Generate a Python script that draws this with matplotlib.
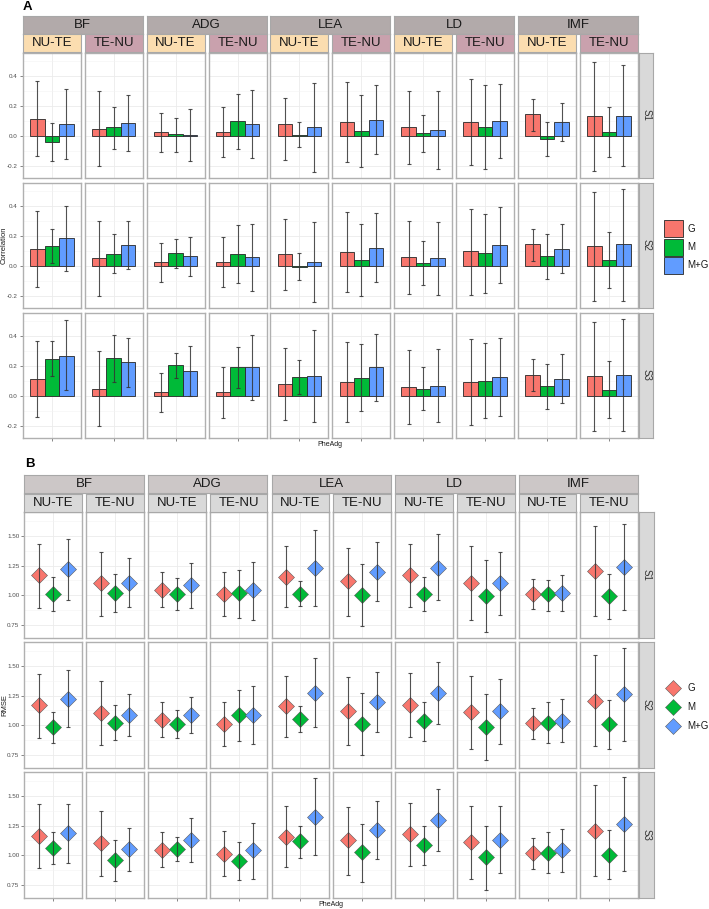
import numpy as np
import matplotlib.pyplot as plt
from matplotlib.patches import Rectangle

plt.rcParams['font.family'] = ['Liberation Sans', 'DejaVu Sans']

traits = ["BF", "ADG", "LEA", "LD", "IMF"]
directions = ["NU-TE", "TE-NU"]
scenarios = ["S1", "S2", "S3"]
methods = ["G", "M", "M+G"]
colors = ["#F8766D", "#00BA38", "#619CFF"]

# panels in order BF NU-TE, BF TE-NU, ADG NU-TE, ..., IMF TE-NU ; columns G, M, M+G
cor_s1 = [[0.113, -0.042, 0.079], [0.046, 0.057, 0.084], [0.022, 0.009, 0.004], [0.024, 0.095, 0.077],
          [0.077, 0.004, 0.055], [0.093, 0.033, 0.106], [0.055, 0.018, 0.038], [0.093, 0.057, 0.097],
          [0.141, -0.022, 0.090], [0.128, 0.024, 0.128]]
cor_s1_lo = [[-0.137, -0.166, -0.155], [-0.203, -0.086, -0.099], [-0.108, -0.106, -0.170], [-0.143, -0.088, -0.150],
             [-0.161, -0.077, -0.245], [-0.174, -0.207, -0.124], [-0.190, -0.106, -0.219], [-0.194, -0.220, -0.148],
             [0.033, -0.137, -0.038], [-0.232, -0.139, -0.205]]
cor_s1_hi = [[0.366, 0.084, 0.313], [0.300, 0.194, 0.269], [0.150, 0.121, 0.177], [0.194, 0.276, 0.305],
             [0.254, 0.090, 0.353], [0.358, 0.269, 0.340], [0.300, 0.139, 0.296], [0.380, 0.338, 0.344],
             [0.247, 0.088, 0.216], [0.492, 0.194, 0.470]]

cor_s2 = [[0.113, 0.130, 0.181], [0.049, 0.077, 0.137], [0.022, 0.082, 0.062], [0.026, 0.077, 0.057],
          [0.077, -0.009, 0.024], [0.093, 0.038, 0.121], [0.055, 0.015, 0.049], [0.095, 0.084, 0.139],
          [0.141, 0.064, 0.113], [0.130, 0.040, 0.141]]
cor_s2_lo = [[-0.139, 0.015, -0.035], [-0.203, -0.051, -0.024], [-0.106, -0.018, -0.068], [-0.143, -0.117, -0.168],
             [-0.159, -0.097, -0.245], [-0.174, -0.205, -0.110], [-0.190, -0.128, -0.196], [-0.194, -0.183, -0.113],
             [0.033, -0.090, -0.051], [-0.234, -0.150, -0.234]]
cor_s2_hi = [[0.367, 0.241, 0.397], [0.300, 0.208, 0.300], [0.150, 0.179, 0.194], [0.194, 0.274, 0.278],
             [0.314, 0.082, 0.294], [0.360, 0.276, 0.353], [0.300, 0.161, 0.294], [0.380, 0.347, 0.390],
             [0.247, 0.214, 0.276], [0.490, 0.227, 0.513]]

cor_s3 = [[0.113, 0.247, 0.265], [0.046, 0.252, 0.221], [0.022, 0.203, 0.166], [0.026, 0.190, 0.190],
          [0.077, 0.126, 0.132], [0.093, 0.119, 0.188], [0.055, 0.046, 0.066], [0.091, 0.099, 0.126],
          [0.139, 0.062, 0.113], [0.130, 0.040, 0.139]]
cor_s3_lo = [[-0.141, 0.132, 0.038], [-0.205, 0.093, 0.057], [-0.108, 0.121, 0.000], [-0.146, 0.051, -0.029],
             [-0.161, 0.011, -0.172], [-0.174, -0.104, -0.035], [-0.190, -0.093, -0.177], [-0.196, -0.150, -0.135],
             [0.029, -0.090, -0.051], [-0.234, -0.150, -0.234]]
cor_s3_hi = [[0.362, 0.362, 0.503], [0.298, 0.404, 0.382], [0.150, 0.283, 0.331], [0.192, 0.327, 0.406],
             [0.316, 0.238, 0.439], [0.360, 0.344, 0.411], [0.302, 0.192, 0.309], [0.380, 0.351, 0.384],
             [0.247, 0.214, 0.276], [0.492, 0.230, 0.512]]

rmse_s1 = [[1.167, 1.014, 1.219], [1.100, 1.017, 1.108], [1.044, 1.011, 1.083], [1.011, 1.017, 1.042],
           [1.158, 1.014, 1.233], [1.122, 1.000, 1.200], [1.169, 1.014, 1.231], [1.103, 0.997, 1.103],
           [1.011, 1.011, 1.017], [1.206, 0.992, 1.236]]
rmse_s1_lo = [[0.892, 0.867, 0.958], [0.830, 0.858, 0.906], [0.900, 0.878, 0.892], [0.825, 0.814, 0.794],
              [0.900, 0.911, 0.911], [0.830, 0.747, 0.950], [0.903, 0.872, 0.958], [0.797, 0.694, 0.836],
              [0.886, 0.867, 0.872], [0.825, 0.803, 0.881]]
rmse_s1_hi = [[1.430, 1.150, 1.469], [1.367, 1.178, 1.311], [1.192, 1.142, 1.272], [1.197, 1.214, 1.281],
              [1.411, 1.117, 1.547], [1.400, 1.261, 1.447], [1.433, 1.153, 1.511], [1.412, 1.295, 1.367],
              [1.139, 1.133, 1.167], [1.583, 1.178, 1.595]]

rmse_s2 = [[1.167, 0.983, 1.222], [1.103, 1.019, 1.089], [1.047, 1.014, 1.089], [1.014, 1.089, 1.089],
           [1.161, 1.056, 1.275], [1.119, 1.014, 1.194], [1.175, 1.033, 1.275], [1.111, 0.983, 1.122],
           [1.017, 1.022, 1.036], [1.206, 1.008, 1.261]]
rmse_s2_lo = [[0.894, 0.853, 0.986], [0.833, 0.875, 0.908], [0.903, 0.897, 0.936], [0.828, 0.867, 0.847],
              [0.906, 0.944, 0.986], [0.833, 0.753, 0.942], [0.906, 0.869, 1.011], [0.803, 0.714, 0.847],
              [0.889, 0.853, 0.858], [0.831, 0.803, 0.869]]
rmse_s2_hi = [[1.433, 1.114, 1.461], [1.369, 1.169, 1.267], [1.194, 1.131, 1.239], [1.200, 1.300, 1.331],
              [1.417, 1.161, 1.564], [1.403, 1.272, 1.444], [1.436, 1.194, 1.533], [1.414, 1.261, 1.389],
              [1.142, 1.192, 1.219], [1.586, 1.214, 1.650]]

rmse_s3 = [[1.164, 1.061, 1.186], [1.103, 0.961, 1.053], [1.047, 1.056, 1.133], [1.014, 0.950, 1.042],
           [1.158, 1.117, 1.325], [1.125, 1.025, 1.214], [1.178, 1.083, 1.297], [1.111, 0.983, 1.131],
           [1.017, 1.022, 1.042], [1.208, 1.006, 1.261]]
rmse_s3_lo = [[0.894, 0.925, 0.936], [0.831, 0.789, 0.872], [0.903, 0.953, 0.947], [0.825, 0.794, 0.806],
              [0.903, 0.981, 1.003], [0.836, 0.778, 0.969], [0.911, 0.919, 1.036], [0.806, 0.714, 0.853],
              [0.889, 0.850, 0.858], [0.831, 0.806, 0.872]]
rmse_s3_hi = [[1.433, 1.200, 1.431], [1.369, 1.133, 1.231], [1.194, 1.158, 1.317], [1.203, 1.111, 1.275],
              [1.414, 1.244, 1.647], [1.408, 1.267, 1.453], [1.436, 1.242, 1.558], [1.417, 1.250, 1.411],
              [1.142, 1.192, 1.225], [1.592, 1.214, 1.653]]

cor_all = [(cor_s1, cor_s1_lo, cor_s1_hi), (cor_s2, cor_s2_lo, cor_s2_hi), (cor_s3, cor_s3_lo, cor_s3_hi)]
rmse_all = [(rmse_s1, rmse_s1_lo, rmse_s1_hi), (rmse_s2, rmse_s2_lo, rmse_s2_hi), (rmse_s3, rmse_s3_lo, rmse_s3_hi)]

W, H = 709, 909
fig = plt.figure(figsize=(W / 100, H / 100), dpi=100)
fig.patch.set_facecolor("white")

xs = [0.7, 1.0, 1.3]


def px_axes(l, t, w, h):
    return fig.add_axes([l / W, 1 - (t + h) / H, w / W, h / H])


def strip(l, t, w, h, text, fc, size, rot=0, ec="#A8A8A8", tc="#1A1A1A"):
    ax = px_axes(l, t, w, h)
    ax.set_facecolor(fc)
    ax.set_xticks([])
    ax.set_yticks([])
    for s in ax.spines.values():
        s.set_color(ec)
        s.set_linewidth(0.8)
    ax.text(0.5, 0.5, text, ha="center", va="center", fontsize=size, rotation=rot,
            color=tc, transform=ax.transAxes)
    return ax


def panel(l, t, w, h, ylim, yt, ymt, ylabels, left, bottom):
    ax = px_axes(l, t, w, h)
    ax.set_xlim(0.4, 1.6)
    ax.set_ylim(*ylim)
    ax.set_xticks([1])
    ax.set_yticks(yt)
    ax.set_yticks(ymt, minor=True)
    ax.grid(True, which="major", color="#EBEBEB", lw=0.6)
    ax.grid(True, which="minor", axis="y", color="#F3F3F3", lw=0.4)
    ax.set_axisbelow(True)
    for s in ax.spines.values():
        s.set_color("#B0B0B0")
        s.set_linewidth(1.0)
    ax.tick_params(which="minor", length=0)
    ax.tick_params(axis="x", length=0, labelbottom=False)
    ax.tick_params(axis="y", length=0, labelleft=False)
    if left:
        ax.set_yticklabels(ylabels)
        ax.tick_params(axis="y", length=2, width=0.5, color="#555555", labelleft=True,
                       labelsize=4.5, labelcolor="#4D4D4D", pad=1.5)
    if bottom:
        ax.tick_params(axis="x", length=2, width=0.5, color="#555555")
    return ax


def draw_block(top, left0, step, pw, data, ylim, yt, ymt, ylabels, kind,
               trait_fc, dir_fcs, ylab, ylab_y):
    row_h = 125.6
    for r in range(3):
        mean, lo, hi = data[r]
        t = top + 130 * r
        for c in range(10):
            l = left0 + step * c
            ax = panel(l, t, pw, row_h, ylim, yt, ymt, ylabels, c == 0, r == 2)
            m = np.array(mean[c])
            err = [m - np.array(lo[c]), np.array(hi[c]) - m]
            if kind == "bar":
                ax.bar(xs, m, 0.3, color=colors, edgecolor="#262626", lw=0.6, zorder=2)
                ax.errorbar(xs, m, yerr=err, fmt="none", ecolor="#333333", elinewidth=0.8,
                            capsize=1.3, capthick=0.8, alpha=0.85, zorder=3)
            else:
                for i in range(3):
                    ax.plot(xs[i], m[i], marker="D", markersize=8, color=colors[i],
                            markeredgecolor="#5A5A5A", markeredgewidth=0.4, zorder=2)
                ax.errorbar(xs, m, yerr=err, fmt="none", ecolor="#333333", elinewidth=0.8,
                            capsize=1.3, capthick=0.8, alpha=0.85, zorder=3)
        strip(left0 + step * 10 - (step - pw) + 1.0, t, 14.5, row_h, scenarios[r], "#D9D9D9", 7,
              rot=270, tc="#333333")
    # facet strips
    for k, tr in enumerate(traits):
        l = left0 + step * 2 * k
        strip(l, top - 36.5, step + pw, 18, tr, trait_fc, 9.5)
        for d in range(2):
            strip(l + step * d, top - 18.3, pw, 18, directions[d], dir_fcs[d], 9.5)
    fig.text(4.5 / W, 1 - ylab_y / H, ylab, rotation=90, ha="center", va="center",
             fontsize=5.5, color="#1A1A1A")
    fig.text((left0 + (step * 9 + pw) / 2) / W, 1 - (top + 392) / H, "PheAdg",
             ha="center", va="center", fontsize=5, color="#1A1A1A")


# Panel A: correlation
draw_block(52.6, 22.8, 61.9, 58.0, cor_all, (-0.283, 0.553), [-0.2, 0.0, 0.2, 0.4],
           [-0.1, 0.1, 0.3, 0.5], ["-0.2", "0.0", "0.2", "0.4"], "bar",
           "#B2AAAA", ["#FBDDB0", "#C9A1AD"], "Correlation", 245)

# Panel B: RMSE
draw_block(512.0, 24.3, 61.8, 57.7, rmse_all, (0.647, 1.698), [0.75, 1.0, 1.25, 1.5],
           [0.875, 1.125, 1.375, 1.625], ["0.75", "1.00", "1.25", "1.50"], "diamond",
           "#CCC7C7", ["#D9D9D9", "#D9D9D9"], "RMSE", 705)

fig.text(22.5 / W, 1 - 7 / H, "A", fontsize=9.5, fontweight="bold", ha="left", va="center")
fig.text(25 / W, 1 - 464 / H, "B", fontsize=9.5, fontweight="bold", ha="left", va="center")

# legends
ov = fig.add_axes([0, 0, 1, 1])
ov.set_xlim(0, W)
ov.set_ylim(H, 0)
ov.axis("off")
for i, name in enumerate(methods):
    y0 = 220 + 18.5 * i
    ov.add_patch(Rectangle((664, y0), 19, 17, facecolor=colors[i], edgecolor="#262626", lw=0.6))
    ov.text(687, y0 + 8.5, name, fontsize=7, va="center", ha="left", color="#1A1A1A")
for i, name in enumerate(methods):
    y0 = 688 + 19 * i
    ov.plot(673, y0, marker="D", markersize=8, color=colors[i], markeredgecolor="#5A5A5A",
            markeredgewidth=0.4)
    ov.text(687, y0, name, fontsize=7, va="center", ha="left", color="#1A1A1A")

plt.savefig("out.png", dpi=100)
